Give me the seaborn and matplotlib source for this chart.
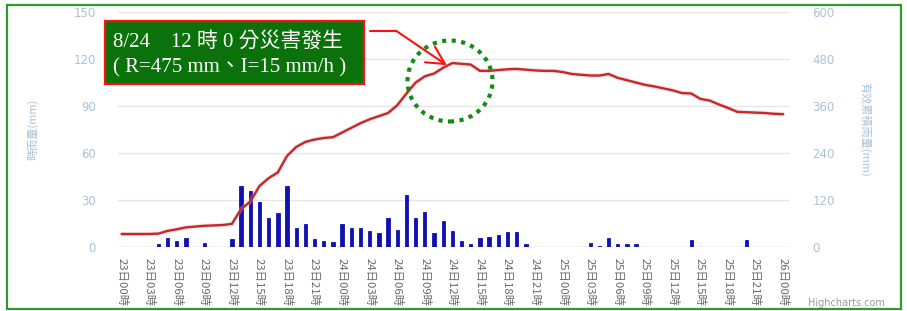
import matplotlib
matplotlib.use("Agg")
import matplotlib.pyplot as plt
import seaborn as sns
import numpy as np
import pandas as pd
from matplotlib.patches import Rectangle, Ellipse
from matplotlib.lines import Line2D

# ---------------- data ----------------
hours = list(range(73))  # 0 = 23日00時 ... 72 = 26日00時
hourly_rain = [0, 0, 0, 0, 1.5, 5.5, 3.6, 5.5, 0, 2.5, 0, 0, 4.6, 39, 35.4, 28.5,
               18.3, 21.3, 39, 11.6, 14.6, 4.6, 3.6, 2.7, 14.6, 11.6, 11.6, 9.7,
               8.4, 18.3, 10.8, 33.3, 18.3, 22.2, 8.4, 16.5, 9.7, 3.4, 1.5, 5.3,
               6.1, 7.2, 9.5, 9.5, 1.5, 0, 0, 0, 0, 0, 0, 2.3, 0.3, 5.3, 1.3, 1.3,
               1.3, 0, 0, 0, 0, 0, 4.4, 0, 0, 0, 0, 0, 4.4, 0, 0, 0, 0]
effective_rain = [32, 32, 32, 32, 33, 40, 44, 49, 51, 53, 54, 55, 58, 96, 115, 155,
                  175, 190, 232, 255, 268, 274, 278, 280, 292, 304, 316, 326, 334,
                  342, 362, 392, 420, 436, 443, 458, 470, 468, 466, 450, 450, 452,
                  454, 455, 453, 451, 450, 450, 447, 442, 440, 438, 438, 442, 432,
                  426, 420, 414, 410, 405, 400, 393, 392, 378, 374, 364, 355, 345,
                  344, 343, 342, 340, 339]
tick_hours = list(range(0, 73, 3))
tick_labels = [f"{23 + h // 24}日{h % 24:02d}時" for h in tick_hours]
left_ticks = [0, 30, 60, 90, 120, 150]
right_ticks = [0, 120, 240, 360, 480, 600]
note_line1 = "8/24\u300012 時 0 分災害發生"
note_line2 = "( R=475 mm\u3001I=15 mm/h )"

df = pd.DataFrame({"hour": hours, "rain": hourly_rain, "eff": effective_rain})

# ---------------- style ----------------
sns.set_style("white")
plt.rcParams['font.family'] = ['DejaVu Sans', 'Noto Sans CJK TC']
CJK = ['Noto Sans CJK TC', 'DejaVu Sans']
axis_blue = '#a9c3d9'

W, H = 907, 311
fig = plt.figure(figsize=(W / 100, H / 100), dpi=100)
L, R, T, B = 118, 790, 12.3, 246.5
ax = fig.add_axes([L / W, 1 - B / H, (R - L) / W, (B - T) / H])

sns.barplot(data=df, x="hour", y="rain", native_scale=True, width=0.36,
            color='#1111b0', saturation=1, ax=ax, zorder=2,
            edgecolor='#1111b0', linewidth=0.6)

ax2 = ax.twinx()
sns.lineplot(data=df, x="hour", y="eff", ax=ax2, color='#eab0b0', lw=3.2,
             alpha=0.35, zorder=3)
sns.lineplot(data=df, x="hour", y="eff", ax=ax2, color='#c3282c', lw=1.7,
             zorder=4)

for a in (ax, ax2):
    for s in a.spines.values():
        s.set_visible(False)
    a.set_xlim(-0.4, 72.75)

ax.set_ylim(0, 150)
ax2.set_ylim(0, 600)
ax.set_yticks(left_ticks)
ax2.set_yticks(right_ticks)
ax.set_yticklabels([str(v) for v in left_ticks], color=axis_blue, fontsize=8.5)
ax2.set_yticklabels([str(v) for v in right_ticks], color=axis_blue, fontsize=8.5)
ax.tick_params(axis='y', length=0, pad=16)
ax2.tick_params(axis='y', length=0, pad=16)
ax.yaxis.grid(True, color='#e6e6e6', lw=1)
ax.set_axisbelow(True)
ax2.grid(False)

ax.set_xticks(tick_hours)
ax.set_xticklabels(tick_labels, rotation=-90, fontsize=8.2, color='#6a6a6a',
                   family=CJK, va='top', ha='center')
ax.tick_params(axis='x', length=5, color='#c8d6e3', width=1, pad=3)
ax2.tick_params(axis='x', length=0)
ax.axhline(0, color='#c8d6e3', lw=1, zorder=1)

ax.set_xlabel("")
ax2.set_xlabel("")
ax.set_ylabel("時雨量(mm)", color=axis_blue, fontsize=8, family=CJK)
ax.yaxis.set_label_coords((38 - L) / (R - L), 0.5)
ax2.set_ylabel("有效累積雨量(mm)", color=axis_blue, fontsize=8, family=CJK,
               rotation=270, va='center')
ax2.yaxis.set_label_coords((865 - L) / (R - L), 0.5)

# ---------------- annotations (figure pixel space) ----------------
def fx(x):
    return x / W

def fy(y):
    return 1 - y / H

# outer green frame
fig.add_artist(Rectangle((fx(6.7), fy(308.5)), fx(900.7) - fx(6.7),
                         fy(4.7) - fy(308.5), transform=fig.transFigure,
                         fill=False, edgecolor='#2f9a2f', lw=1.6, zorder=10))

# annotation box
fig.add_artist(Rectangle((fx(105), fy(84.3)), fx(364) - fx(105),
                         fy(20.7) - fy(84.3), transform=fig.transFigure,
                         facecolor='#0b720b', edgecolor='#ff1010', lw=1.6,
                         zorder=10))
serif = ['Liberation Serif', 'Noto Sans CJK TC']
fig.text(fx(113), fy(42), note_line1, color='white', fontsize=15,
         family=serif, va='center', ha='left', zorder=11)
fig.text(fx(113), fy(68), note_line2, color='white', fontsize=15,
         family=serif, va='center', ha='left', zorder=11)

# red leader line with arrow
fig.add_artist(Line2D([fx(370), fx(396)], [fy(30.7), fy(30.7)],
                      transform=fig.transFigure, color='#ff1010', lw=1.5,
                      zorder=10))
fig.add_artist(Line2D([fx(396), fx(445)], [fy(30.7), fy(64)],
                      transform=fig.transFigure, color='#ff1010', lw=1.5,
                      zorder=10))
fig.add_artist(Line2D([fx(435), fx(445), fx(425)], [fy(46.7), fy(64), fy(62.3)],
                      transform=fig.transFigure, color='#ff1010', lw=1.5,
                      zorder=10))

# dotted green circle
fig.add_artist(Ellipse((fx(450), fy(81)), fx(85), 81 / H,
                       transform=fig.transFigure, fill=False,
                       edgecolor='#168a16', lw=3.0, linestyle=(0, (1, 1.3)),
                       zorder=10))

fig.text(fx(885), fy(303), "Highcharts.com", color='#9a9a9a', fontsize=7,
         ha='right', va='center')

fig.savefig("out.png", dpi=100)
